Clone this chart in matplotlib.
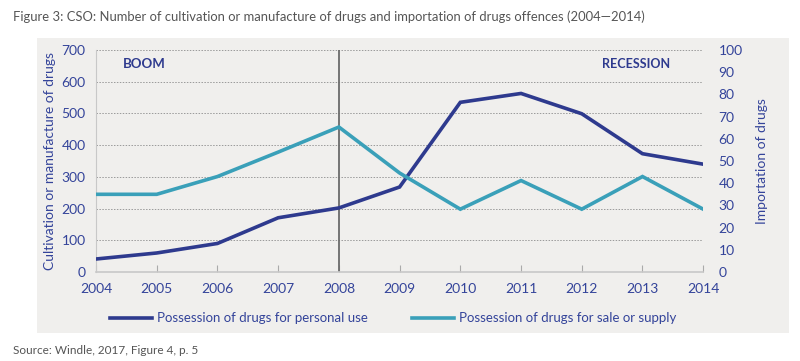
#recreate CSO drugs offences chart (2004-2014), two y axes
import matplotlib.pyplot as plt
from matplotlib.patches import Rectangle
from matplotlib.lines import Line2D

plt.rcParams['font.family'] = ['Lato', 'DejaVu Sans']

years = [2004, 2005, 2006, 2007, 2008, 2009, 2010, 2011, 2012, 2013, 2014]
personal_use = [41, 60, 90, 171, 202, 268, 535, 563, 499, 373, 340]
sale_supply = [35, 35, 43, 54, 65.3, 44.6, 28.3, 41.2, 28.3, 43, 28.3]

navy = '#2e3a8e'
teal = '#3aa0b9'
label_col = '#34449a'
panel = '#f0efed'

fig = plt.figure(figsize=(8, 3.61), dpi=100)
fig.patches.append(Rectangle((0.046, 0.078), 0.94, 0.817, transform=fig.transFigure,
                             facecolor=panel, edgecolor='none', zorder=-10))

ax = fig.add_axes([0.12, 0.2465, 0.759, 0.615])
ax.patch.set_alpha(0)
ax2 = ax.twinx()

ax.plot(years, personal_use, color=navy, linewidth=2.6, solid_joinstyle='miter', zorder=3)
ax2.plot(years, sale_supply, color=teal, linewidth=2.6, solid_joinstyle='miter', zorder=3)

ax.set_xlim(2004, 2014)
ax.set_ylim(0, 700)
ax2.set_ylim(0, 100)
ax.set_xticks(years)
ax.set_yticks(range(0, 701, 100))
ax2.set_yticks(range(0, 101, 10))

for y in range(100, 701, 100):
    ax.axhline(y, color='#9a9a9a', linewidth=0.7, linestyle=(0, (1.5, 1.5)), zorder=1)
ax.axvline(2008, color='#6b6b6b', linewidth=1.3, zorder=2)

for a in (ax, ax2):
    for s in ('top', 'right'):
        a.spines[s].set_visible(False)
    a.spines['left'].set_visible(False)
ax.spines['left'].set_visible(True)
ax.spines['left'].set_color('#c8c8c8')
ax.spines['bottom'].set_color('#c8c8c8')
ax.spines['bottom'].set_linewidth(1.2)
ax2.spines['bottom'].set_visible(False)

ax.tick_params(axis='x', direction='in', length=5, color='#aaaaaa', labelcolor=label_col,
               labelsize=10, pad=8)
ax.tick_params(axis='y', length=0, labelcolor=label_col, labelsize=10, pad=7.5)
ax2.tick_params(axis='y', length=0, labelcolor=label_col, labelsize=10, pad=11)

ax.set_ylabel('Cultivation or manufacture of drugs', color=label_col, fontsize=10, labelpad=4)
ax2.set_ylabel('Importation of drugs', color=label_col, fontsize=10, labelpad=10)

ax.text(2004.45, 655, 'BOOM', color=navy, fontsize=9.5, fontweight='bold', va='center')
ax.text(2013.46, 655, 'RECESSION', color=navy, fontsize=9, fontweight='bold',
        va='center', ha='right')

handles = [Line2D([], [], color=navy, linewidth=2.6),
           Line2D([], [], color=teal, linewidth=2.6)]
fig.legend(handles, ['Possession of drugs for personal use',
                     'Possession of drugs for sale or supply'],
           loc='center left', bbox_to_anchor=(0.1225, 0.118), ncol=2, frameon=False,
           fontsize=9.5, labelcolor=label_col, handlelength=3.2, handletextpad=0.4,
           columnspacing=3.3)

fig.text(0.016, 0.953, 'Figure 3: CSO: Number of cultivation or manufacture of drugs and importation of drugs offences (2004\u20142014)',
         color='#555555', fontsize=9.35, va='center')
fig.text(0.016, 0.03, 'Source: Windle, 2017, Figure 4, p. 5', color='#555555',
         fontsize=8.5, va='center')

fig.savefig('out.png', dpi=100)
